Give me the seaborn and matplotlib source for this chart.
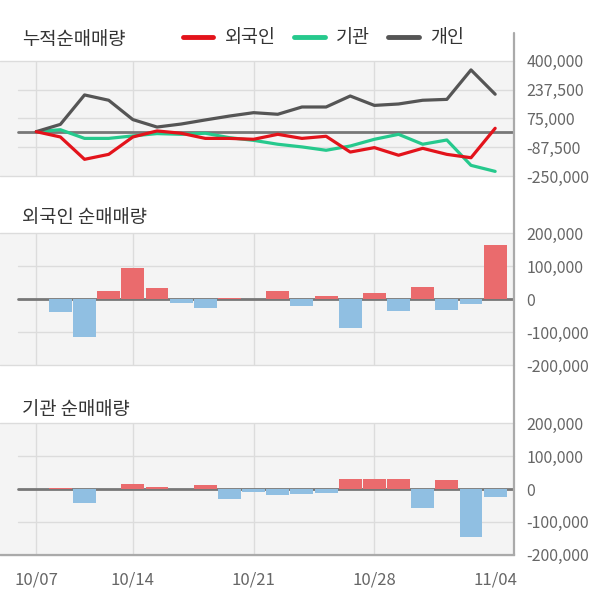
import numpy as np
import pandas as pd
import matplotlib
matplotlib.use("Agg")
import matplotlib.pyplot as plt
import seaborn as sns
from matplotlib.lines import Line2D
from matplotlib.ticker import FuncFormatter

# trading days shown on the x axis
dates = ['10/07', '10/08', '10/10', '10/11', '10/14', '10/15', '10/16', '10/17',
         '10/18', '10/21', '10/22', '10/23', '10/24', '10/25', '10/28', '10/29',
         '10/30', '10/31', '11/01', '11/04']
tick_dates = ['10/07', '10/14', '10/21', '10/28', '11/04']

# cumulative net buying (top panel)
cum_foreign = [0, -30000, -156000, -128000, -30000, 4000, -9000, -38000, -38000, -43000,
               -15000, -38000, -26000, -115000, -90000, -133000, -94000, -128000, -147000, 19000]
cum_inst = [0, 11000, -38000, -38000, -24000, -11000, -15000, -9000, -34000, -49000,
            -71000, -86000, -105000, -81000, -43000, -15000, -71000, -47000, -190000, -224000]
cum_indiv = [0, 41000, 207000, 177000, 68000, 26000, 43000, 66000, 88000, 107000,
             98000, 139000, 139000, 201000, 148000, 156000, 177000, 182000, 348000, 211000]

# daily net buying (middle / bottom panels)
net_foreign = [0, -38000, -116000, 26000, 96000, 35000, -13000, -28000, 5000, 0,
               26000, -22000, 11000, -89000, 19000, -37000, 38000, -34000, -16000, 163000]
net_inst = [0, 4000, -43000, 0, 16000, 7000, 0, 13000, -31000, -10000,
            -19000, -16000, -13000, 29000, 31000, 31000, -58000, 26000, -146000, -25000]

top_ticks = [-250000, -87500, 75000, 237500, 400000]
bar_ticks = [-200000, -100000, 0, 100000, 200000]

RED = '#e3131b'
GREEN = '#26c98d'
GRAY = '#555555'
RED_BAR = '#ea6b6d'
BLUE_BAR = '#90bfe2'
BG = '#f4f4f4'
GRID = '#dcdcdc'

sns.set_theme(style='white')
plt.rcParams['font.family'] = ['Noto Sans CJK KR', 'DejaVu Sans']

W, H = 600, 604
fig = plt.figure(figsize=(6, 6.04), dpi=100)
right = 514 / W


def add_panel(top_px, bottom_px):
    return fig.add_axes([0, 1 - bottom_px / H, right, (bottom_px - top_px) / H])


def style_panel(ax, yticks):
    n = len(dates)
    ax.set_facecolor(BG)
    ax.set_xlim(-1.5, n - 0.22)
    ax.set_ylim(yticks[0], yticks[-1])
    for s in ax.spines.values():
        s.set_visible(False)
    # horizontal grid: edges full width, inner lines start a bit in
    for i, t in enumerate(yticks):
        if t == 0:
            continue
        inner = 0 < i < len(yticks) - 1
        ax.axhline(t, xmin=0.035 if inner else 0, color=GRID, lw=1, zorder=0,
                   clip_on=False)
    for d in tick_dates[:-1]:
        ax.axvline(dates.index(d), color=GRID, lw=1, zorder=0)
    ax.axhline(0, xmin=0.035, color='#777777', lw=2, zorder=1.5)
    ax.yaxis.tick_right()
    ax.set_yticks(yticks)
    ax.yaxis.set_major_formatter(FuncFormatter(lambda v, p: f'{int(v):,}'))
    ax.tick_params(axis='y', length=0, pad=9, labelsize=11.5, labelcolor='#666666')
    for lab in ax.get_yticklabels():
        lab.set_horizontalalignment('left')
    ax.set_xticks([dates.index(d) for d in tick_dates])
    ax.set_xticklabels([])
    ax.tick_params(axis='x', length=0)
    ax.set_xlabel('')
    ax.set_ylabel('')


# --- top: cumulative lines ---
ax1 = add_panel(60.7, 176)
pos = np.arange(len(dates))
sns.lineplot(x=pos, y=cum_inst, color=GREEN, linewidth=2.3, ax=ax1, zorder=4)
sns.lineplot(x=pos, y=cum_indiv, color=GRAY, linewidth=2.3, ax=ax1, zorder=4)
sns.lineplot(x=pos, y=cum_foreign, color=RED, linewidth=2.3, ax=ax1, zorder=5)
style_panel(ax1, top_ticks)


def bar_panel(ax, values):
    df = pd.DataFrame({'pos': pos, 'value': values})
    df['sign'] = np.where(df['value'] >= 0, 'up', 'down')
    sns.barplot(data=df, x='pos', y='value', hue='sign',
                palette={'up': RED_BAR, 'down': BLUE_BAR}, dodge=False,
                width=0.95, saturation=1, errorbar=None, legend=False,
                linewidth=0, ax=ax, zorder=2)
    style_panel(ax, bar_ticks)


ax2 = add_panel(233.3, 365)
bar_panel(ax2, net_foreign)

ax3 = add_panel(423.3, 554.7)
bar_panel(ax3, net_inst)
ax3.set_xticklabels(tick_dates)
ax3.tick_params(axis='x', pad=12, labelsize=12, labelcolor='#666666')
ax3.spines['bottom'].set_visible(True)
ax3.spines['bottom'].set_color('#aaaaaa')
ax3.spines['bottom'].set_linewidth(1.6)

# right-hand divider running through all panels
fig.add_artist(Line2D([right, right], [1 - 33 / H, 1 - 554.7 / H],
                      transform=fig.transFigure, color='#aaaaaa', lw=1.6))

# panel titles
for txt, y in [('누적순매매량', 40), ('외국인 순매매량', 218), ('기관 순매매량', 410)]:
    fig.text(22 / W, 1 - y / H, txt, ha='left', va='center', fontsize=13.5, color='#333333')

handles = [Line2D([], [], color=RED, lw=3.5),
           Line2D([], [], color=GREEN, lw=3.5),
           Line2D([], [], color=GRAY, lw=3.5)]
fig.legend(handles, ['외국인', '기관', '개인'], loc='center left',
           bbox_to_anchor=(183 / W, 1 - 38 / H), bbox_transform=fig.transFigure,
           ncol=3, frameon=False, fontsize=13.3, handlelength=1.65,
           handletextpad=0.6, columnspacing=1.0, borderpad=0, borderaxespad=0,
           labelcolor='#333333')

fig.savefig('out.png', dpi=100)
